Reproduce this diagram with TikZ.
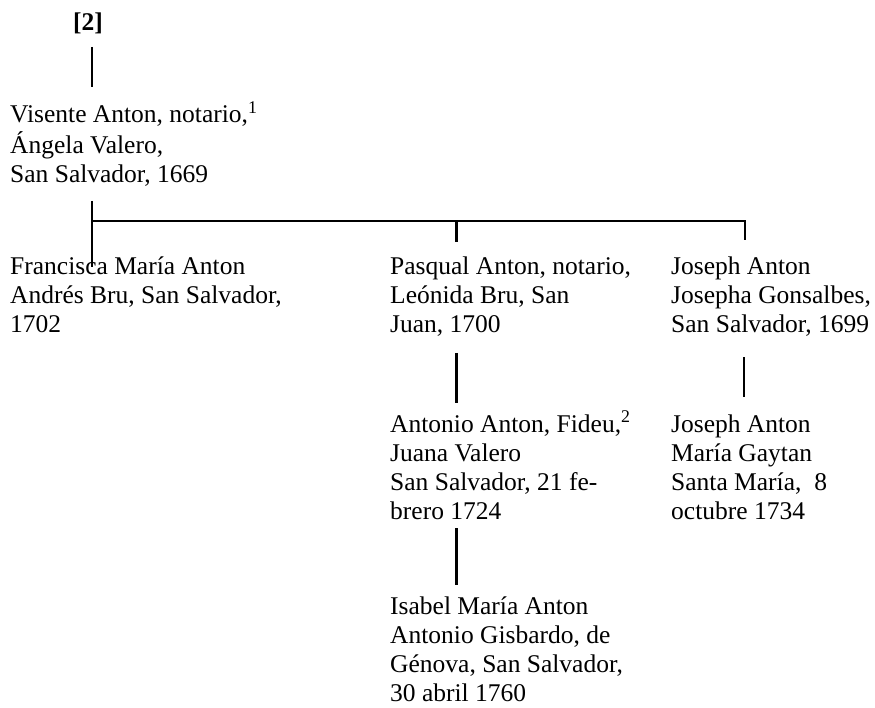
\documentclass[tikz,border=0pt]{standalone}
\usepackage{fontspec}
\setmainfont{LiberationSerif}[Extension=.ttf, UprightFont=*-Regular, BoldFont=*-Bold, ItalicFont=*-Italic, BoldItalicFont=*-BoldItalic]
% one-column stack of lines whose reference point is the first baseline
\newcommand\famlines[1]{\begin{tabular}[t]{@{}l@{}}#1\end{tabular}}
\begin{document}
\begin{tikzpicture}[x=1pt,y=-1pt,
  entry/.style={inner sep=0pt, anchor=base west, font=\fontsize{25.5}{29}\selectfont},
  link/.style={line width=2.8pt}]
\useasboundingbox (0,0) rectangle (875,708);

% heading
\node[inner sep=0pt, anchor=base, font=\fontsize{25.5}{29}\selectfont\bfseries] (head) at (88,31) {[2]};

% people
\node[entry] (visente) at (10,123) {\famlines{Visente Anton, notario,\textsuperscript{1}\\ Ángela Valero,\\ San Salvador, 1669}};
\node[entry] (francisca) at (10,275) {\famlines{Francisca María Anton\\ Andrés Bru, San Salvador,\\ 1702}};
\node[entry] (pasqual) at (390,275) {\famlines{Pasqual Anton, notario,\\ Leónida Bru, San\\ Juan, 1700}};
\node[entry] (joseph) at (671,275) {\famlines{Joseph Anton\\ Josepha Gonsalbes,\\ San Salvador, 1699}};
\node[entry] (antonio) at (390,432) {\famlines{Antonio Anton, Fideu,\textsuperscript{2}\\ Juana Valero\\ San Salvador, 21 fe-\\ brero 1724}};
\node[entry] (josephb) at (671,432) {\famlines{Joseph Anton\\ María Gaytan\\ Santa María,\ \ 8\\ octubre 1734}};
\node[entry] (isabel) at (390,614) {\famlines{Isabel María Anton\\ Antonio Gisbardo, de\\ Génova, San Salvador,\\ 30 abril 1760}};

% connector ends
\coordinate (headA) at (92,47);
\coordinate (headB) at (92,87);
\coordinate (rootA) at (92,201);
\coordinate (rootB) at (92,267);
\coordinate (busL) at (92,221);
\coordinate (busM) at (456.5,221);
\coordinate (busR) at (745,221);
\coordinate (tickM) at (456.5,241.7);
\coordinate (tickR) at (745,240);
\coordinate (pasA) at (456.7,353);
\coordinate (pasB) at (456.7,403);
\coordinate (josA) at (744,357);
\coordinate (josB) at (744,397);
\coordinate (antA) at (456.7,528);
\coordinate (antB) at (456.7,585);

% connectors
\draw[link] (headA) -- (headB);
\draw[link] (rootA) -- (rootB);
\draw[link] (busL) -- (busR) -- (tickR);
\draw[link] (busM) -- (tickM);
\draw[link] (pasA) -- (pasB);
\draw[link] (josA) -- (josB);
\draw[link] (antA) -- (antB);
\end{tikzpicture}
\end{document}
